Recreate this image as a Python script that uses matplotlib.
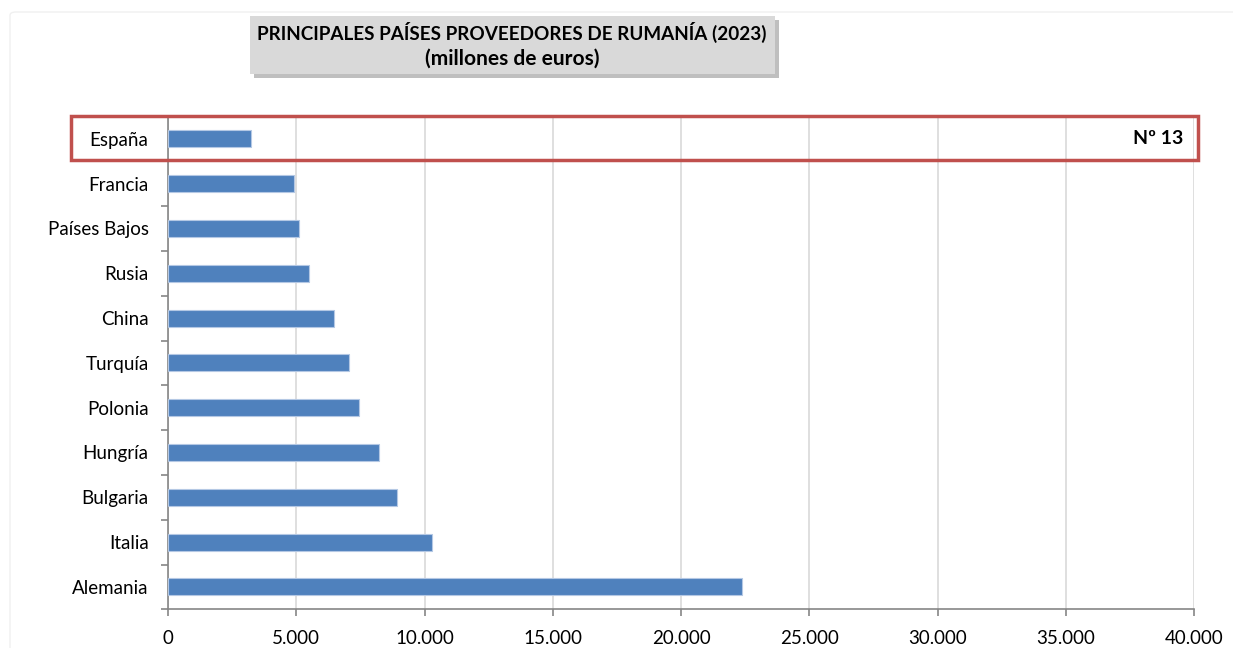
import matplotlib.pyplot as plt
from matplotlib.patches import Rectangle, FancyBboxPatch
from matplotlib.ticker import FuncFormatter, FixedLocator

paises = ['Alemania', 'Italia', 'Bulgaria', 'Hungría', 'Polonia', 'Turquía',
          'China', 'Rusia', 'Países Bajos', 'Francia', 'España']
valores = [22380, 10310, 8920, 8230, 7460, 7060, 6480, 5490, 5090, 4910, 3230]
xticks = [0, 5000, 10000, 15000, 20000, 25000, 30000, 35000, 40000]
titulo = 'PRINCIPALES PAÍSES PROVEEDORES DE RUMANÍA (2023)'
subtitulo = '(millones de euros)'
puesto = 'Nº 13'

plt.rcParams['font.family'] = ['Lato', 'DejaVu Sans']

fig = plt.figure(figsize=(12.33, 6.48), dpi=100)
ax = fig.add_axes([168 / 1233, (648 - 609.3) / 648, (1194 - 168) / 1233, (609.3 - 116.5) / 648])

y = range(len(paises))
ax.barh(y, valores, height=0.38, color='#4F81BD', edgecolor='#b4c8e4', linewidth=0.8, zorder=3)

ax.set_xlim(0, 40000)
ax.set_ylim(-0.5, len(paises) - 0.5)
ax.set_xticks(xticks)
ax.xaxis.set_major_formatter(FuncFormatter(lambda v, p: f'{int(v):,}'.replace(',', '.')))
ax.set_yticks(list(y))
ax.set_yticklabels(paises)
ax.yaxis.set_minor_locator(FixedLocator([i - 0.5 for i in range(len(paises) + 1)]))

ax.grid(axis='x', color='#d9d9d9', linewidth=1.2, zorder=0)
for s in ['top', 'right']:
    ax.spines[s].set_visible(False)
ax.spines['left'].set_color('#868686')
ax.spines['bottom'].set_color('#868686')
ax.spines['left'].set_linewidth(1.2)
ax.spines['bottom'].set_linewidth(1.2)

ax.tick_params(axis='y', which='major', length=0, pad=14, labelsize=13.5, colors='black')
ax.tick_params(axis='y', which='minor', length=5, color='#868686', width=1.2)
ax.tick_params(axis='x', which='major', length=5, color='#868686', width=1.2, pad=10,
               labelsize=13.5, colors='black')

# recuadro rojo de España
fig.patches.append(Rectangle((71 / 1233, (648 - 160) / 648), (1198 - 71) / 1233, 44 / 648,
                             transform=fig.transFigure, fill=False, edgecolor='#C0504D',
                             linewidth=2.5, zorder=10))
fig.text(1183 / 1233, (648 - 139) / 648, puesto, ha='right', va='center',
         fontsize=14, fontweight='bold')

# caja del título con sombra
fig.patches.append(Rectangle((254 / 1233, (648 - 78) / 648), 525 / 1233, 58 / 648,
                             transform=fig.transFigure, facecolor='#b0b0b0', edgecolor='none',
                             alpha=0.8, zorder=1))
fig.patches.append(Rectangle((250 / 1233, (648 - 74) / 648), 525 / 1233, 58 / 648,
                             transform=fig.transFigure, facecolor='#d9d9d9', edgecolor='none',
                             zorder=2))
fig.text(512 / 1233, (648 - 32) / 648, titulo, ha='center', va='center', fontsize=13.6,
         fontweight='bold', zorder=3)
fig.text(512 / 1233, (648 - 59) / 648, subtitulo, ha='center', va='center', fontsize=15,
         fontweight='bold', zorder=3)

# borde exterior
fig.patches.append(FancyBboxPatch((10 / 1233, -10 / 648), 1240 / 1233, 646 / 648,
                                  boxstyle='round,pad=0,rounding_size=0.005',
                                  transform=fig.transFigure, fill=False,
                                  edgecolor='#f0f0f0', linewidth=1))

fig.savefig('out.png', dpi=100)
